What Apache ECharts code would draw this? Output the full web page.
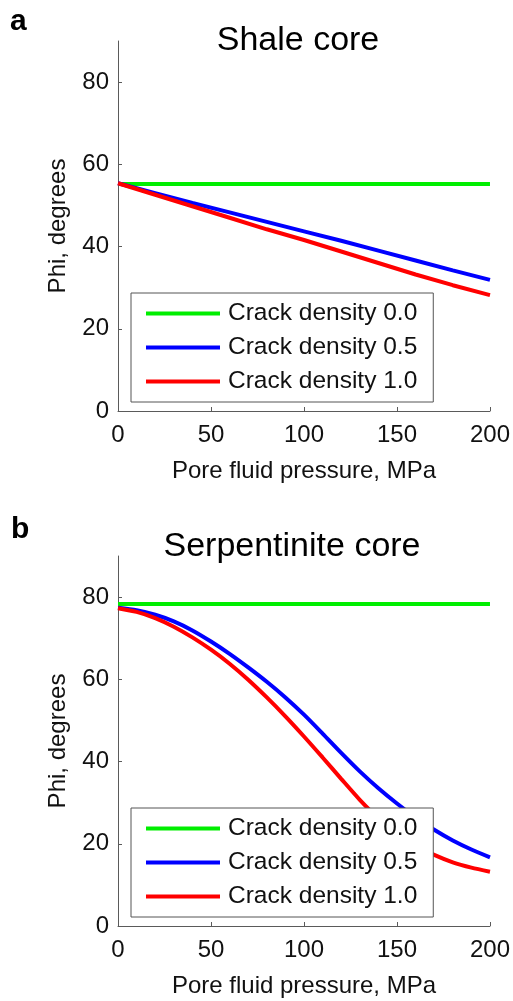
<!DOCTYPE html>
<html>
<head>
<meta charset="utf-8">
<script src="https://cdn.jsdelivr.net/npm/echarts@6/dist/echarts.min.js"></script>
<style>
  html, body { margin: 0; padding: 0; background: #fff; }
  #chart { width: 513px; height: 1001px; }
</style>
</head>
<body>
<div id="chart"></div>
<script>
// ---- Data ----
const seriesNames = ['Crack density 0.0', 'Crack density 0.5', 'Crack density 1.0'];
const seriesColors = ['#00ee00', '#0000ff', '#ff0000'];

// Panel a: Shale core
const pressureA = [0, 20, 40, 60, 80, 100, 120, 140, 160, 180, 200];
const shaleCrack00 = [55.2, 55.2, 55.2, 55.2, 55.2, 55.2, 55.2, 55.2, 55.2, 55.2, 55.2];
const shaleCrack05 = [55.4, 53.0, 50.6, 48.3, 46.0, 43.7, 41.4, 39.0, 36.6, 34.2, 31.9];
const shaleCrack10 = [55.4, 52.6, 49.8, 47.0, 44.2, 41.6, 38.8, 36.0, 33.2, 30.6, 28.2];

// Panel b: Serpentinite core
const pressureB = [0, 10, 20, 30, 40, 50, 60, 70, 80, 90, 100, 110, 120, 130, 140, 150, 160, 170, 180, 190, 200];
const serpCrack00 = [78.3, 78.3, 78.3, 78.3, 78.3, 78.3, 78.3, 78.3, 78.3, 78.3, 78.3, 78.3, 78.3, 78.3, 78.3, 78.3, 78.3, 78.3, 78.3, 78.3, 78.3];
const serpCrack05 = [77.4, 76.8, 75.7, 74.1, 71.9, 69.2, 66.2, 62.9, 59.4, 55.6, 51.4, 46.8, 42.1, 37.6, 33.5, 29.8, 26.4, 23.4, 20.8, 18.6, 16.7];
const serpCrack10 = [77.3, 76.4, 74.9, 72.8, 70.2, 67.2, 63.8, 59.9, 55.6, 51.0, 46.1, 41.0, 35.8, 30.7, 26.2, 22.5, 19.6, 17.3, 15.5, 14.2, 13.2];

const yTicks = [0, 20, 40, 60, 80];
const xTicks = [0, 50, 100, 150, 200];
const panelTitles = ['Shale core', 'Serpentinite core'];
const panelLetters = ['a', 'b'];
const xAxisName = 'Pore fluid pressure, MPa';
const yAxisName = 'Phi, degrees';

// ---- Build ----
const FONT = "'Liberation Sans', Arial, Helvetica, sans-serif";
const TXT = '#111';
const AX = '#5a5a5a';

function pairs(xs, ys) { return xs.map((x, i) => [x, ys[i]]); }

function xAxisCfg(gridIndex) {
  return {
    type: 'value', gridIndex, min: 0, max: 200, interval: 50,
    name: xAxisName, nameLocation: 'middle', nameGap: 48,
    nameTextStyle: { fontSize: 24, color: TXT, fontFamily: FONT },
    axisLine: { show: true, lineStyle: { color: AX, width: 1 } },
    axisTick: { show: true, inside: true, length: 4, lineStyle: { color: AX }, customValues: xTicks },
    axisLabel: { fontSize: 24, color: TXT, fontFamily: FONT, margin: 12, customValues: xTicks },
    splitLine: { show: false }
  };
}
function yAxisCfg(gridIndex) {
  return {
    type: 'value', gridIndex, min: 0, max: 90, interval: 20,
    name: yAxisName, nameLocation: 'middle', nameGap: 48, nameRotate: 90,
    nameTextStyle: { fontSize: 24, color: TXT, fontFamily: FONT },
    axisLine: { show: true, lineStyle: { color: AX, width: 1 } },
    axisTick: { show: true, inside: true, length: 4, lineStyle: { color: AX }, customValues: yTicks },
    axisLabel: { fontSize: 24, color: TXT, fontFamily: FONT, margin: 9, customValues: yTicks },
    splitLine: { show: false }
  };
}
function legendCfg(top) {
  return {
    left: 131, top, orient: 'vertical',
    data: seriesNames, selectedMode: false,
    icon: 'rect', itemWidth: 74, itemHeight: 4, itemGap: 9,
    padding: [8, 16, 8, 15],
    backgroundColor: '#fff', borderColor: '#555', borderWidth: 1,
    textStyle: { fontSize: 24.5, lineHeight: 24, color: TXT, fontFamily: FONT, padding: [0, 0, 0, 3] }
  };
}
function lineSeries(name, color, xs, ys, idx, smooth) {
  return {
    type: 'line', name, xAxisIndex: idx, yAxisIndex: idx,
    data: pairs(xs, ys), showSymbol: false, symbol: 'none', smooth,
    lineStyle: { color, width: 4 }, itemStyle: { color }, silent: true, z: 2
  };
}

const option = {
  animation: false,
  backgroundColor: '#fff',
  textStyle: { fontFamily: FONT },
  title: [
    { text: panelLetters[0], left: 10, top: 7, padding: 0, textStyle: { fontSize: 30, fontWeight: 'bold', color: '#000', fontFamily: FONT } },
    { text: panelTitles[0], left: 298, textAlign: 'center', top: 24, padding: 0, textStyle: { fontSize: 34, fontWeight: 'normal', color: '#000', fontFamily: FONT } },
    { text: panelLetters[1], left: 11, top: 515, padding: 0, textStyle: { fontSize: 30, fontWeight: 'bold', color: '#000', fontFamily: FONT } },
    { text: panelTitles[1], left: 292, textAlign: 'center', top: 530, padding: 0, textStyle: { fontSize: 34, fontWeight: 'normal', color: '#000', fontFamily: FONT } }
  ],
  grid: [
    { left: 118, top: 41, width: 372, height: 370 },
    { left: 118, top: 556, width: 372, height: 370 }
  ],
  xAxis: [xAxisCfg(0), xAxisCfg(1)],
  yAxis: [yAxisCfg(0), yAxisCfg(1)],
  legend: [legendCfg(293), legendCfg(808)],
  series: [
    lineSeries(seriesNames[0], seriesColors[0], pressureA, shaleCrack00, 0, false),
    lineSeries(seriesNames[1], seriesColors[1], pressureA, shaleCrack05, 0, false),
    lineSeries(seriesNames[2], seriesColors[2], pressureA, shaleCrack10, 0, false),
    lineSeries(seriesNames[0], seriesColors[0], pressureB, serpCrack00, 1, false),
    lineSeries(seriesNames[1], seriesColors[1], pressureB, serpCrack05, 1, 0.25),
    lineSeries(seriesNames[2], seriesColors[2], pressureB, serpCrack10, 1, 0.25)
  ]
};

const chart = echarts.init(document.getElementById('chart'), null, { renderer: 'canvas', width: 513, height: 1001 });
chart.setOption(option);
</script>
</body>
</html>
